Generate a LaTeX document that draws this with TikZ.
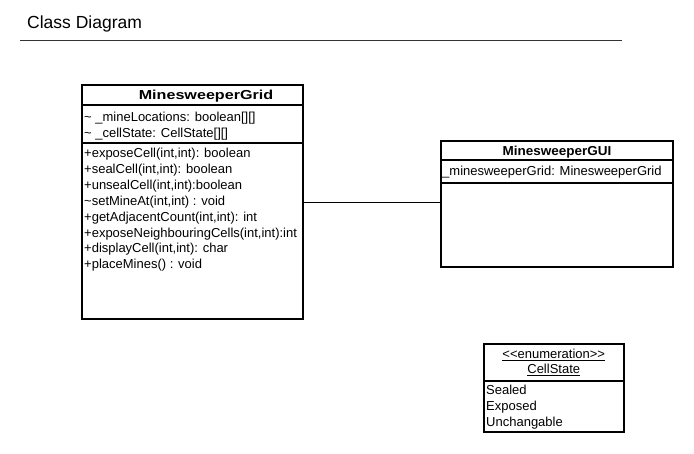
\documentclass[tikz,border=0pt]{standalone}
\usepackage{fontspec}
\setmainfont{Liberation Sans}
\begin{document}
\begin{tikzpicture}[x=1pt,y=-1pt,
  classbox/.style={draw=black, line width=2pt, rectangle, inner sep=0pt},
  sep/.style={draw=black, line width=2pt},
  member/.style={anchor=base west, inner sep=0pt, font=\fontsize{13}{15}\selectfont},
  plain/.style={anchor=base, inner sep=0pt, font=\fontsize{13}{15}\selectfont},
  classname/.style={anchor=base, inner sep=0pt, font=\fontsize{13}{15}\selectfont\bfseries},
  assoc/.style={draw=black, line width=1pt}]
\useasboundingbox (0,0) rectangle (694,453);

% title and rule
\node[anchor=base west, inner sep=0pt, font=\fontsize{17.5}{21}\selectfont] (title) at (27,28) {Class Diagram};
\coordinate (ruleL) at (20,40);
\coordinate (ruleR) at (622,40);
\draw[line width=1pt, draw=black!80] (ruleL) -- (ruleR);

% MinesweeperGrid
\node[classbox, minimum width=221pt, minimum height=234pt] (grid) at (192.5,202) {};
\draw[sep] (grid.west |- 0,105) -- (grid.east |- 0,105);
\draw[sep] (grid.west |- 0,143) -- (grid.east |- 0,143);
\node[classname] (gridname) at (206,99.5) {\scalebox{1.24}[1]{MinesweeperGrid}};
\node[member] (ga1) at (84,121.5) {\~{} \_mineLocations: boolean[][]};
\node[member] (ga2) at (84,137) {\~{} \_cellState: CellState[][]};
\node[member] (gm1) at (84,157.5) {+exposeCell(int,int): boolean};
\node[member] (gm2) at (84,173.4) {+sealCell(int,int): boolean};
\node[member] (gm3) at (84,189.3) {+unsealCell(int,int):boolean};
\node[member] (gm4) at (84,205.2) {\~{}setMineAt(int,int) : void};
\node[member] (gm5) at (84,221.1) {+getAdjacentCount(int,int): int};
\node[member] (gm6) at (84,237.0) {+exposeNeighbouringCells(int,int):int};
\node[member] (gm7) at (84,252.9) {+displayCell(int,int): char};
\node[member] (gm8) at (84,268.8) {+placeMines() : void};

% MinesweeperGUI
\node[classbox, minimum width=232pt, minimum height=126pt] (gui) at (557,204) {};
\draw[sep] (gui.west |- 0,160) -- (gui.east |- 0,160);
\draw[sep] (gui.west |- 0,182.5) -- (gui.east |- 0,182.5);
\node[classname] (guiname) at (557,155) {\scalebox{1.04}[1]{MinesweeperGUI}};
\node[member] (gua1) at (442,175.5) {\_minesweeperGrid: MinesweeperGrid};

% CellState enumeration
\node[classbox, minimum width=139.5pt, minimum height=88pt] (cell) at (553.75,388) {};
\draw[sep] (cell.west |- 0,381) -- (cell.east |- 0,381);
\node[plain] (stereo) at (553.75,358.5) {\underline{{<}{<}enumeration{>}{>}}};
\node[plain] (cellname) at (553.75,373.5) {\underline{CellState}};
\node[member] (cs1) at (486,394.5) {Sealed};
\node[member] (cs2) at (486,410.5) {Exposed};
\node[member] (cs3) at (486,426.5) {Unchangable};

% association between the grid and the GUI
\draw[assoc] (grid.east) -- (grid.east -| gui.west);
\end{tikzpicture}
\end{document}
